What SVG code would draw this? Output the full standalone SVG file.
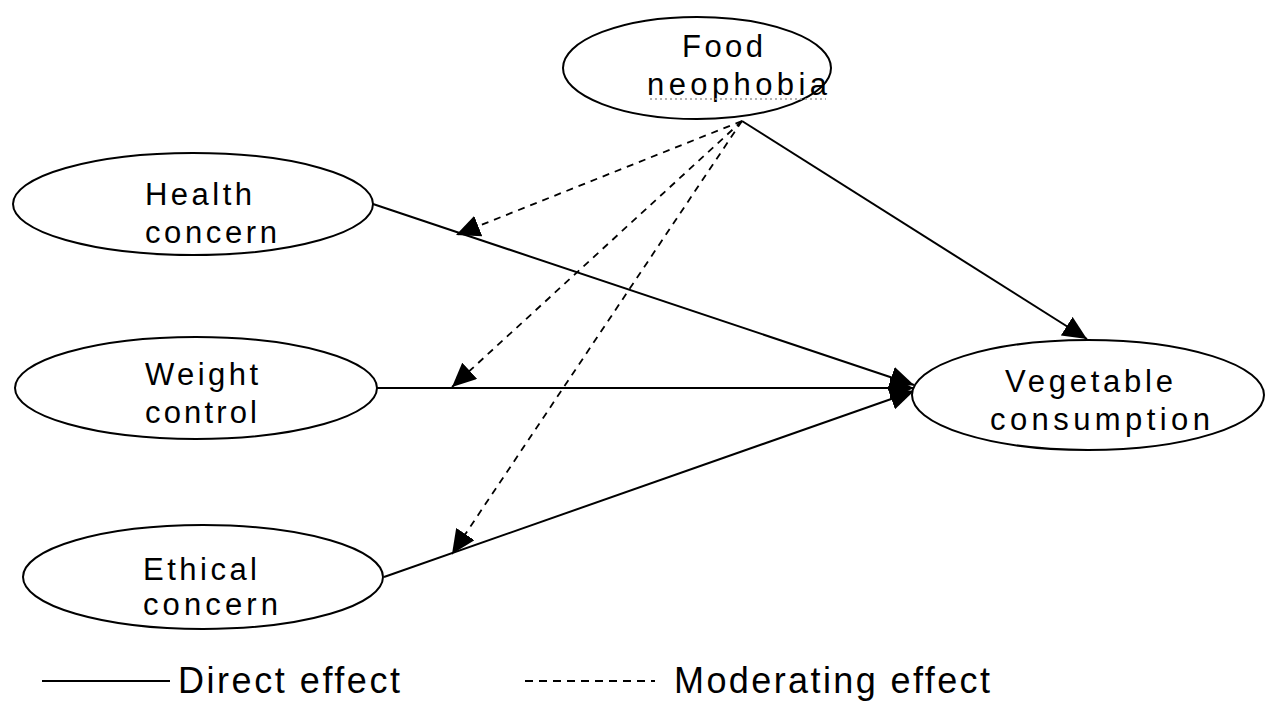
<svg xmlns="http://www.w3.org/2000/svg" width="1266" height="702" viewBox="0 0 1266 702">
<style>
.node ellipse{fill:#fff;stroke:#000;stroke-width:2}
text{font-family:"Liberation Sans",Arial,sans-serif;font-size:31px;fill:#000}
.leg{font-size:36px}
.solid{stroke:#000;stroke-width:2;fill:none}
.dash{stroke:#000;stroke-width:1.8;fill:none;stroke-dasharray:7 6}
</style>
<defs>
<marker id="ah" markerUnits="userSpaceOnUse" markerWidth="26" markerHeight="22" refX="24" refY="11" orient="auto">
<path d="M0,0 L24,11 L0,22 Z" fill="#000"/>
</marker>
</defs>
<rect width="1266" height="702" fill="#fff"/>
<g id="connectors">
<line class="solid" x1="373" y1="204" x2="914" y2="385" marker-end="url(#ah)"/>
<line class="solid" x1="377" y1="388" x2="914" y2="388" marker-end="url(#ah)"/>
<line class="solid" x1="384" y1="577" x2="914" y2="391" marker-end="url(#ah)"/>
<line class="solid" x1="742" y1="121" x2="1087" y2="339" marker-end="url(#ah)"/>
<line class="dash" x1="742" y1="121" x2="456" y2="235" marker-end="url(#ah)"/>
<line class="dash" x1="742" y1="121" x2="452" y2="387" marker-end="url(#ah)"/>
<line class="dash" x1="742" y1="121" x2="452" y2="554" marker-end="url(#ah)"/>
</g>
<g id="food" class="node">
<ellipse cx="697" cy="68" rx="134" ry="51"/>
<text x="682" y="57" textLength="81" lengthAdjust="spacing">Food</text>
<text x="647" y="95" textLength="180" lengthAdjust="spacing">neophobia</text>
<line x1="650" y1="99" x2="826" y2="99" stroke="#999" stroke-width="1.5" stroke-dasharray="2 3"/>
</g>
<g id="health" class="node">
<ellipse cx="193" cy="204" rx="180" ry="51"/>
<text x="145" y="205" textLength="107" lengthAdjust="spacing">Health</text>
<text x="145" y="243" textLength="132" lengthAdjust="spacing">concern</text>
</g>
<g id="weight" class="node">
<ellipse cx="196" cy="388" rx="181" ry="51"/>
<text x="145" y="385" textLength="113" lengthAdjust="spacing">Weight</text>
<text x="145" y="423" textLength="112" lengthAdjust="spacing">control</text>
</g>
<g id="ethical" class="node">
<ellipse cx="203" cy="577" rx="180" ry="52"/>
<text x="143" y="580" textLength="114" lengthAdjust="spacing">Ethical</text>
<text x="143" y="615" textLength="135" lengthAdjust="spacing">concern</text>
</g>
<g id="vegetable" class="node">
<ellipse cx="1088" cy="395" rx="176" ry="55"/>
<text x="1005" y="392" textLength="168" lengthAdjust="spacing">Vegetable</text>
<text x="990" y="430" textLength="220" lengthAdjust="spacing">consumption</text>
</g>
<g id="legend">
<line x1="42" y1="681" x2="170" y2="681" stroke="#000" stroke-width="2"/>
<text class="leg" x="178" y="693" textLength="222" lengthAdjust="spacing">Direct effect</text>
<line x1="525" y1="681" x2="655" y2="681" stroke="#000" stroke-width="1.8" stroke-dasharray="8 6"/>
<text class="leg" x="674" y="693" textLength="316" lengthAdjust="spacing">Moderating effect</text>
</g>
</svg>
